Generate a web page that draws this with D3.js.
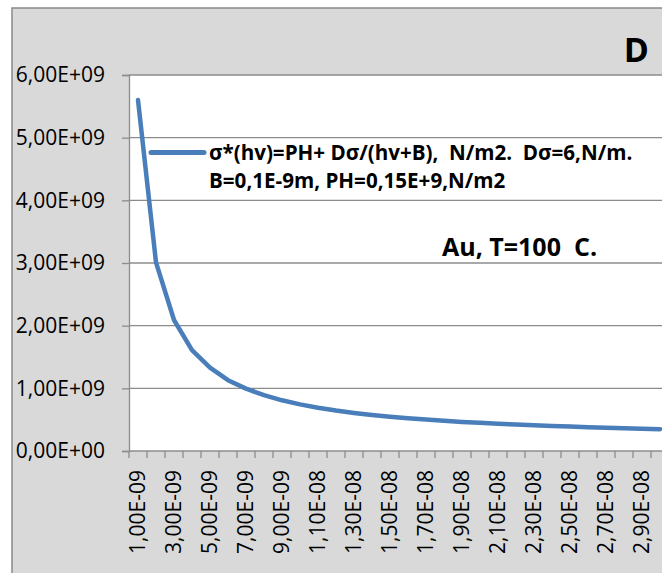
<!DOCTYPE html>
<html>
<head>
<meta charset="utf-8">
<script src="https://cdn.jsdelivr.net/npm/d3@7"></script>
<style>
  html, body { margin: 0; padding: 0; background: #ffffff; overflow: hidden; }
  svg { display: block; }
  text { font-family: "Open Sans", "Noto Sans", sans-serif; fill: #000; white-space: pre; }
</style>
</head>
<body>
<svg id="chart" width="662" height="573"></svg>
<script>
// ---- data ----
const categories = [
  "1,00E-09","2,00E-09","3,00E-09","4,00E-09","5,00E-09","6,00E-09","7,00E-09","8,00E-09","9,00E-09","1,00E-08",
  "1,10E-08","1,20E-08","1,30E-08","1,40E-08","1,50E-08","1,60E-08","1,70E-08","1,80E-08","1,90E-08","2,00E-08",
  "2,10E-08","2,20E-08","2,30E-08","2,40E-08","2,50E-08","2,60E-08","2,70E-08","2,80E-08","2,90E-08","3,00E-08"
];
const sigmaValues = [
  5.60e9, 3.01e9, 2.09e9, 1.61e9, 1.33e9, 1.13e9, 0.995e9, 0.891e9, 0.809e9, 0.744e9,
  0.691e9, 0.646e9, 0.608e9, 0.576e9, 0.547e9, 0.523e9, 0.501e9, 0.482e9, 0.464e9, 0.449e9,
  0.434e9, 0.422e9, 0.410e9, 0.399e9, 0.389e9, 0.380e9, 0.371e9, 0.364e9, 0.356e9, 0.349e9
];
const yTicks = [0, 1e9, 2e9, 3e9, 4e9, 5e9, 6e9];
const yTickLabels = ["0,00E+00","1,00E+09","2,00E+09","3,00E+09","4,00E+09","5,00E+09","6,00E+09"];
const legendLines = ["σ*(hv)=PH+ Dσ/(hv+B),  N/m2.  Dσ=6,N/m.", "B=0,1E-9m, PH=0,15E+9,N/m2"];
const titleText = "D";
const noteText = "Au, T=100  C.";

// ---- layout ----
const svg = d3.select("#chart");
const plot = { left: 129, top: 75, bottom: 451, right: 669 };
const gridColor = "#8c8c8c";
const lineColor = "#4a7ebb";

// chart area background + border
svg.append("rect").attr("x", 12).attr("y", 8).attr("width", 700).attr("height", 600)
  .attr("fill", "#d9d9d9").attr("stroke", "#898989").attr("stroke-width", 1.5);

// plot area
svg.append("rect").attr("x", plot.left).attr("y", plot.top)
  .attr("width", plot.right - plot.left).attr("height", plot.bottom - plot.top)
  .attr("fill", "#ffffff");

const x = d3.scaleBand().domain(categories).range([plot.left, plot.right]).padding(0);
const y = d3.scaleLinear().domain([0, 6e9]).range([plot.bottom, plot.top]);

// gridlines
svg.append("g").selectAll("line").data(yTicks.slice(1)).join("line")
  .attr("x1", plot.left).attr("x2", plot.right)
  .attr("y1", d => y(d)).attr("y2", d => y(d))
  .attr("stroke", gridColor).attr("stroke-width", 1.3);

// y axis
const yAxis = d3.axisLeft(y).tickValues(yTicks).tickSize(7).tickPadding(17)
  .tickFormat((d, i) => yTickLabels[i]);
const gy = svg.append("g").attr("transform", `translate(${plot.left},0)`).call(yAxis);
gy.select(".domain").attr("stroke", gridColor).attr("stroke-width", 1.3);
gy.selectAll(".tick line").attr("stroke", gridColor).attr("stroke-width", 1.3);
gy.selectAll(".tick text").style("font-size", "21px").style("font-family", "'Open Sans', sans-serif").attr("fill", "#000");

// x axis (ticks between categories, labels every other category)
const gx = svg.append("g");
gx.append("line").attr("x1", plot.left).attr("x2", plot.right)
  .attr("y1", plot.bottom).attr("y2", plot.bottom)
  .attr("stroke", gridColor).attr("stroke-width", 1.3);
const boundaries = categories.map(c => x(c)).concat([x.range()[1]]);
gx.selectAll("line.tk").data(boundaries).join("line").attr("class", "tk")
  .attr("x1", d => d).attr("x2", d => d)
  .attr("y1", plot.bottom).attr("y2", plot.bottom + 7)
  .attr("stroke", gridColor).attr("stroke-width", 1.3);
gx.selectAll("text").data(categories.filter((c, i) => i % 2 === 0)).join("text")
  .attr("transform", d => `translate(${x(d) + x.bandwidth() / 2},${plot.bottom + 19}) rotate(-90)`)
  .attr("text-anchor", "end").attr("dy", "0.35em")
  .style("font-size", "21px")
  .text(d => d);

// series line
const line = d3.line().x((d, i) => x(categories[i]) + x.bandwidth() / 2).y(d => y(d));
svg.append("path").datum(sigmaValues).attr("d", line)
  .attr("fill", "none").attr("stroke", lineColor).attr("stroke-width", 4.5)
  .attr("stroke-linejoin", "round").attr("stroke-linecap", "round");

// legend
svg.append("line").attr("x1", 151).attr("x2", 204).attr("y1", 152.5).attr("y2", 152.5)
  .attr("stroke", lineColor).attr("stroke-width", 5).attr("stroke-linecap", "round");
svg.append("g").selectAll("text").data(legendLines).join("text")
  .attr("x", 209).attr("y", (d, i) => 160 + i * 28)
  .style("font-size", "20.6px").style("font-weight", "bold")
  .text(d => d);

// title (top right)
svg.append("text").attr("x", 649).attr("y", 62).attr("text-anchor", "end")
  .style("font-size", "34px").style("font-weight", "bold").text(titleText);

// annotation
svg.append("text").attr("x", 442).attr("y", 256)
  .style("font-size", "25px").style("font-weight", "bold").text(noteText);
</script>
</body>
</html>
